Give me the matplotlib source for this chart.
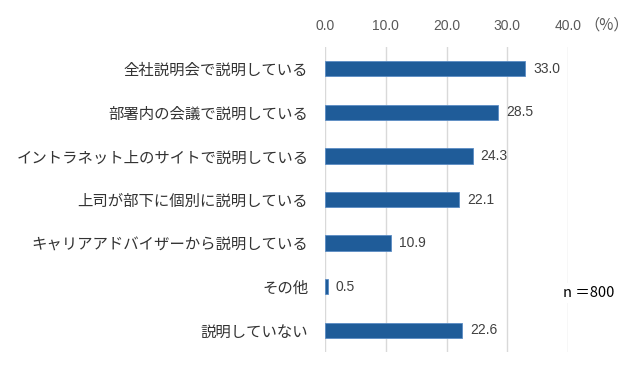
import matplotlib
matplotlib.use("Agg")
import matplotlib.pyplot as plt

plt.rcParams['font.family'] = ['Noto Sans CJK JP', 'DejaVu Sans']

categories = [
    "全社説明会で説明している",
    "部署内の会議で説明している",
    "イントラネット上のサイトで説明している",
    "上司が部下に個別に説明している",
    "キャリアアドバイザーから説明している",
    "その他",
    "説明していない",
]
values = [33.0, 28.5, 24.3, 22.1, 10.9, 0.5, 22.6]
xticks = [0, 10, 20, 30, 40]
sample_note = "n ＝800"

num_font = ["Liberation Sans", "DejaVu Sans"]

fig = plt.figure(figsize=(6.4, 3.67), dpi=100)
ax = fig.add_axes([325 / 640, 1 - 352 / 367, (568 - 325) / 640, (352 - 47) / 367])

ypos = list(range(len(categories)))
ax.barh(ypos, values, height=0.35, color="#1f5c99", edgecolor="#5b8cc4", linewidth=0.6, zorder=3)

for y, v in zip(ypos, values):
    ax.text(v + 1.3, y, f"{v:.1f}", va="center", ha="left", fontsize=10, color="#404040", family=num_font)

ax.set_xlim(0, 40)
ax.set_ylim(len(categories) - 0.5, -0.5)
ax.set_xticks(xticks)
ax.set_xticklabels([f"{t:.1f}" for t in xticks], fontsize=10, color="#595959", family=num_font)
ax.xaxis.tick_top()
ax.tick_params(axis="x", length=0, pad=10)
ax.set_yticks(ypos)
ax.set_yticklabels(categories, fontsize=11.1, color="#333333")
ax.tick_params(axis="y", length=0, pad=12)
ax.grid(axis="x", color="#d9d9d9", linewidth=1, zorder=0)
for s in ax.spines.values():
    s.set_visible(False)

fig.text(584 / 640, 1 - 25 / 367, "（%）", fontsize=11, color="#595959", va="center", ha="left")
fig.text(589 / 640, 1 - 293 / 367, sample_note, fontsize=10.5, color="#000000", va="center", ha="center",
         bbox=dict(facecolor="white", edgecolor="none", pad=2))

fig.savefig("out.png", dpi=100)
